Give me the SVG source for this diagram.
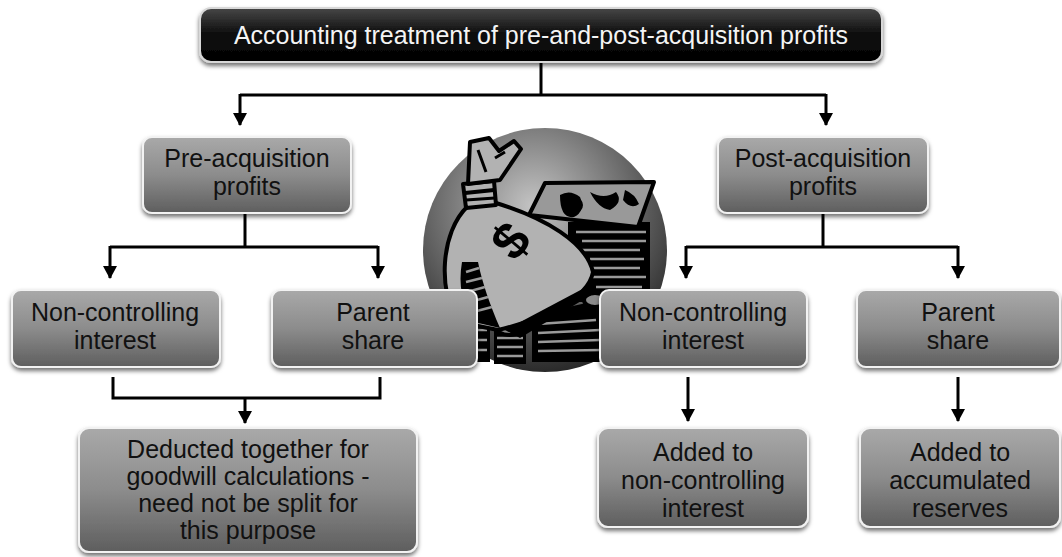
<svg xmlns="http://www.w3.org/2000/svg" width="1062" height="557" viewBox="0 0 1062 557">
  <defs>
    <linearGradient id="boxGrad" x1="0" y1="0" x2="0" y2="1">
      <stop offset="0" stop-color="#a9a9a9"/>
      <stop offset="0.5" stop-color="#8c8c8c"/>
      <stop offset="1" stop-color="#5e5e5e"/>
    </linearGradient>
    <linearGradient id="titleGrad" x1="0" y1="0" x2="0" y2="1">
      <stop offset="0" stop-color="#474747"/>
      <stop offset="0.45" stop-color="#111"/>
      <stop offset="1" stop-color="#000"/>
    </linearGradient>
    <radialGradient id="discGrad" cx="0.45" cy="0.32" r="0.7">
      <stop offset="0" stop-color="#c4c4c4"/>
      <stop offset="0.55" stop-color="#6e6e6e"/>
      <stop offset="1" stop-color="#262626"/>
    </radialGradient>
    <filter id="shadow" x="-10%" y="-10%" width="120%" height="130%">
      <feDropShadow dx="0" dy="3" stdDeviation="2" flood-color="#000" flood-opacity="0.55"/>
    </filter>
    <marker id="arrow" markerUnits="userSpaceOnUse" markerWidth="14" markerHeight="14" refX="12" refY="7" orient="auto">
      <path d="M0,0 L13,7 L0,14 Z" fill="#000"/>
    </marker>
  </defs>
  <style>
    .box { fill: url(#boxGrad); stroke: #f2f2f2; stroke-width: 2; filter: url(#shadow); }
    .title { fill: url(#titleGrad); stroke: #d8d8d8; stroke-width: 2; filter: url(#shadow); }
    .lbl { font-family: "Liberation Sans", Arial, sans-serif; font-size: 25px; fill: #111; text-anchor: middle; }
    .tlbl { font-family: "Liberation Sans", Arial, sans-serif; font-size: 25px; fill: #f4f4f4; text-anchor: middle; }
    .wire { fill: none; stroke: #000; stroke-width: 3; }
    .ink { stroke: #000; stroke-width: 4; stroke-linejoin: round; }
    .stripe { stroke: #9a9a9a; stroke-width: 2.5; }
  </style>

  <!-- central money-bag emblem -->
  <g id="emblem">
    <circle cx="545" cy="250" r="122" fill="url(#discGrad)"/>
    <!-- back stack of bills -->
    <rect x="568" y="222" width="82" height="80" fill="#000"/>
    <g class="stripe">
      <line x1="576" y1="232" x2="646" y2="232"/>
      <line x1="582" y1="241" x2="646" y2="241"/>
      <line x1="578" y1="250" x2="640" y2="250"/>
      <line x1="590" y1="259" x2="644" y2="259"/>
      <line x1="586" y1="268" x2="640" y2="268"/>
      <line x1="592" y1="277" x2="646" y2="277"/>
      <line x1="596" y1="287" x2="642" y2="287"/>
    </g>
    <polygon points="545,183 654,182 638,227 529,215" fill="#999" class="ink"/>
    <path d="M560,195 q10,-6 20,2 q6,14 -6,20 q-14,2 -14,-22 Z M590,192 q14,8 26,0 q8,10 -6,18 q-12,-2 -20,-18 Z M625,190 q10,4 14,14 q-8,6 -16,-4 Z" fill="#000"/>
    <circle cx="576" cy="205" r="7" fill="#000"/>
    <!-- lower stack of bills -->
    <polygon points="532,315 600,300 608,362 532,362" fill="#000"/>
    <g class="stripe">
      <line x1="538" y1="324" x2="596" y2="320"/>
      <line x1="538" y1="333" x2="600" y2="330"/>
      <line x1="538" y1="342" x2="600" y2="340"/>
      <line x1="538" y1="351" x2="602" y2="350"/>
    </g>
    <ellipse cx="595" cy="300" rx="11" ry="7" fill="#8a8a8a" class="ink"/>
    <!-- coin stacks -->
    <rect x="458" y="282" width="32" height="80" fill="#000"/>
    <g class="stripe">
      <line x1="461" y1="300" x2="487" y2="300"/>
      <line x1="461" y1="310" x2="487" y2="310"/>
      <line x1="461" y1="320" x2="487" y2="320"/>
      <line x1="461" y1="330" x2="487" y2="330"/>
      <line x1="461" y1="340" x2="487" y2="340"/>
      <line x1="461" y1="350" x2="487" y2="350"/>
    </g>
    <ellipse cx="474" cy="285" rx="15" ry="8" fill="#8a8a8a" class="ink"/>
    <rect x="494" y="322" width="32" height="42" fill="#000"/>
    <g class="stripe">
      <line x1="497" y1="338" x2="523" y2="338"/>
      <line x1="497" y1="347" x2="523" y2="347"/>
      <line x1="497" y1="356" x2="523" y2="356"/>
    </g>
    <ellipse cx="510" cy="326" rx="15" ry="9" fill="#8a8a8a" class="ink"/>
    <!-- the bag -->
    <path d="M468,206 C440,232 438,292 458,322 L498,330 C540,320 588,300 593,272 C586,242 545,218 496,203 Z" fill="#b2b2b2" class="ink"/>
    <path d="M462,262 C458,285 462,305 474,322 L500,328 C490,305 482,282 478,262 Z" fill="#000"/>
    <g class="stripe">
      <line x1="466" y1="272" x2="479" y2="268"/>
      <line x1="466" y1="282" x2="482" y2="278"/>
      <line x1="467" y1="292" x2="485" y2="287"/>
      <line x1="470" y1="302" x2="488" y2="297"/>
      <line x1="473" y1="312" x2="492" y2="307"/>
    </g>
    <path d="M505,330 L590,285 L596,292 L520,338 Z" fill="#000"/>
    <text x="512" y="258" transform="rotate(-50 512 242)" font-family="Liberation Sans, Arial, sans-serif" font-size="52" font-weight="bold" text-anchor="middle" fill="#000">$</text>
    <!-- neck and tie -->
    <polygon points="463,184 494,181 496,205 466,208" fill="#b2b2b2" class="ink"/>
    <line x1="465" y1="193" x2="494" y2="190" stroke="#000" stroke-width="4"/>
    <line x1="466" y1="200" x2="495" y2="198" stroke="#000" stroke-width="3"/>
    <polygon points="470,142 489,138 499,151 514,141 521,149 500,180 468,184" fill="#b2b2b2" class="ink"/>
    <path d="M478,150 L486,172 M495,158 L505,152" stroke="#000" stroke-width="3"/>
  </g>

  <!-- connectors -->
  <g id="connectors">
    <path class="wire" d="M541,62 V95"/>
    <path class="wire" d="M240,95 H826"/>
    <path class="wire" d="M240,94 V125" marker-end="url(#arrow)"/>
    <path class="wire" d="M826,94 V125" marker-end="url(#arrow)"/>

    <path class="wire" d="M245,213 V247"/>
    <path class="wire" d="M110,247 H378"/>
    <path class="wire" d="M110,246 V278" marker-end="url(#arrow)"/>
    <path class="wire" d="M378,246 V278" marker-end="url(#arrow)"/>

    <path class="wire" d="M113,377 V398 H380 V377"/>
    <path class="wire" d="M245,398 V423" marker-end="url(#arrow)"/>

    <path class="wire" d="M823,213 V247"/>
    <path class="wire" d="M686,247 H958"/>
    <path class="wire" d="M686,246 V278" marker-end="url(#arrow)"/>
    <path class="wire" d="M958,246 V278" marker-end="url(#arrow)"/>

    <path class="wire" d="M688,377 V421" marker-end="url(#arrow)"/>
    <path class="wire" d="M958,377 V421" marker-end="url(#arrow)"/>
  </g>

  <!-- nodes -->
  <g id="node-title">
    <rect class="title" x="200" y="8" width="682" height="54" rx="11"/>
    <text class="tlbl" x="541" y="44">Accounting treatment of pre-and-post-acquisition profits</text>
  </g>

  <g id="node-pre">
    <rect class="box" x="143" y="137" width="208" height="76" rx="9"/>
    <text class="lbl" x="247" y="167">Pre-acquisition</text>
    <text class="lbl" x="247" y="195">profits</text>
  </g>

  <g id="node-post">
    <rect class="box" x="718" y="137" width="210" height="76" rx="9"/>
    <text class="lbl" x="823" y="167">Post-acquisition</text>
    <text class="lbl" x="823" y="195">profits</text>
  </g>

  <g id="node-pre-nci">
    <rect class="box" x="12" y="290" width="208" height="77" rx="9"/>
    <text class="lbl" x="115" y="321">Non-controlling</text>
    <text class="lbl" x="115" y="349">interest</text>
  </g>

  <g id="node-pre-parent">
    <rect class="box" x="272" y="290" width="205" height="77" rx="9"/>
    <text class="lbl" x="373" y="321">Parent</text>
    <text class="lbl" x="373" y="349">share</text>
  </g>

  <g id="node-post-nci">
    <rect class="box" x="600" y="290" width="207" height="77" rx="9"/>
    <text class="lbl" x="703" y="321">Non-controlling</text>
    <text class="lbl" x="703" y="349">interest</text>
  </g>

  <g id="node-post-parent">
    <rect class="box" x="857" y="290" width="203" height="77" rx="9"/>
    <text class="lbl" x="958" y="321">Parent</text>
    <text class="lbl" x="958" y="349">share</text>
  </g>

  <g id="node-goodwill">
    <rect class="box" x="79" y="428" width="338" height="124" rx="10"/>
    <text class="lbl" x="248" y="458">Deducted together for</text>
    <text class="lbl" x="248" y="485">goodwill calculations -</text>
    <text class="lbl" x="248" y="512">need not be split for</text>
    <text class="lbl" x="248" y="539">this purpose</text>
  </g>

  <g id="node-added-nci">
    <rect class="box" x="598" y="428" width="210" height="99" rx="10"/>
    <text class="lbl" x="703" y="461">Added to</text>
    <text class="lbl" x="703" y="489">non-controlling</text>
    <text class="lbl" x="703" y="517">interest</text>
  </g>

  <g id="node-added-reserves">
    <rect class="box" x="860" y="428" width="200" height="99" rx="10"/>
    <text class="lbl" x="960" y="461">Added to</text>
    <text class="lbl" x="960" y="489">accumulated</text>
    <text class="lbl" x="960" y="517">reserves</text>
  </g>
</svg>
